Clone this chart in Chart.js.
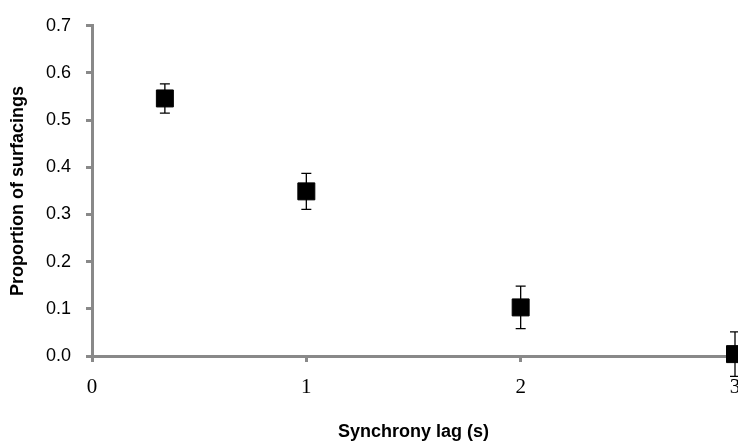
<!DOCTYPE html>
<html>
<head>
<meta charset="utf-8">
<script src="https://cdn.jsdelivr.net/npm/chart.js@4/dist/chart.umd.min.js"></script>
<style>
  html, body { margin: 0; padding: 0; background: #fff; }
  #wrap { width: 738px; height: 443px; }
</style>
</head>
<body>
<div id="wrap"><canvas id="grafico"></canvas></div>
<script>
// dados
const lags = [0.34, 1, 2, 3];
const proporcoes = [0.546, 0.349, 0.103, 0.004];
const erros = [0.031, 0.038, 0.045, 0.047];
const ticksY = [0.0, 0.1, 0.2, 0.3, 0.4, 0.5, 0.6, 0.7];
const ticksX = [0, 1, 2, 3];

const corEixo = '#898989';

// barras de erro desenhadas pelas escalas do próprio gráfico
const barrasErro = {
  id: 'barrasErro',
  beforeDatasetsDraw(chart) {
    const { ctx, scales: { x, y } } = chart;
    ctx.save();
    ctx.strokeStyle = '#000';
    ctx.lineWidth = 1.3;
    lags.forEach((lag, i) => {
      const px = x.getPixelForValue(lag);
      const topo = y.getPixelForValue(proporcoes[i] + erros[i]);
      const base = y.getPixelForValue(proporcoes[i] - erros[i]);
      ctx.beginPath();
      ctx.moveTo(px, topo); ctx.lineTo(px, base);
      ctx.moveTo(px - 5, topo); ctx.lineTo(px + 5, topo);
      ctx.moveTo(px - 5, base); ctx.lineTo(px + 5, base);
      ctx.stroke();
    });
    ctx.restore();
  }
};

new Chart(document.getElementById('grafico'), {
  type: 'scatter',
  data: {
    datasets: [{
      label: 'Proportion of surfacings',
      data: lags.map((v, i) => ({ x: v, y: proporcoes[i] })),
      pointStyle: 'rect',
      pointRadius: 12,
      backgroundColor: '#000',
      borderColor: '#000',
      borderWidth: 1,
      clip: false
    }]
  },
  options: {
    responsive: true,
    maintainAspectRatio: false,
    animation: false,
    layout: { autoPadding: false, padding: { top: 23, right: 3, left: 0, bottom: 0 } },
    plugins: {
      legend: { display: false },
      tooltip: { enabled: false }
    },
    scales: {
      x: {
        type: 'linear',
        min: 0,
        max: 3,
        afterBuildTicks: s => { s.ticks = ticksX.map(v => ({ value: v })); },
        afterFit: s => { s.height = 87; s.paddingLeft = 0; s.paddingRight = 0; },
        border: { color: corEixo, width: 3 },
        grid: { drawOnChartArea: false, drawTicks: true, tickLength: 6, color: corEixo, lineWidth: 3 },
        ticks: {
          padding: 13,
          color: '#000',
          font: { family: '"Liberation Serif", "Times New Roman", serif', size: 21 },
          maxRotation: 0
        },
        title: {
          display: true,
          text: 'Synchrony lag (s)',
          color: '#000',
          padding: { top: 0, bottom: 0 },
          font: { family: '"Liberation Sans", Arial, sans-serif', size: 18, weight: 'bold' }
        }
      },
      y: {
        min: 0,
        max: 0.7,
        afterBuildTicks: s => { s.ticks = ticksY.map(v => ({ value: v })); },
        afterFit: s => { s.width = 92; },
        border: { color: corEixo, width: 3 },
        grid: { drawOnChartArea: false, drawTicks: true, tickLength: 6, color: corEixo, lineWidth: 3 },
        ticks: {
          padding: 15,
          color: '#000',
          font: { family: '"Liberation Sans", Arial, sans-serif', size: 18 },
          callback: v => Number(v).toFixed(1)
        },
        title: {
          display: true,
          text: 'Proportion of surfacings',
          color: '#000',
          padding: { top: 7, bottom: 0 },
          font: { family: '"Liberation Sans", Arial, sans-serif', size: 18, weight: 'bold' }
        }
      }
    }
  },
  plugins: [barrasErro]
});
</script>
</body>
</html>
